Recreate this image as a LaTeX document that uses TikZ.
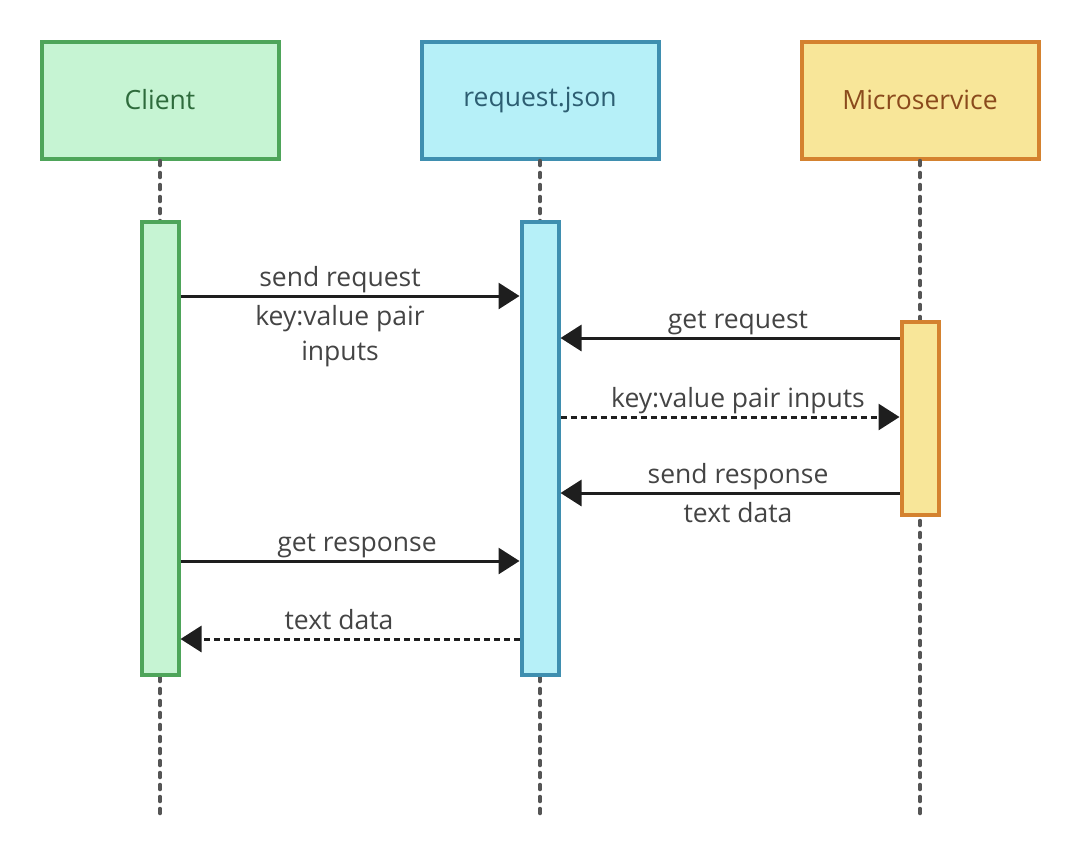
\documentclass[tikz,border=0pt]{standalone}
\usepackage{fontspec}
\setmainfont{Open Sans}
\usetikzlibrary{arrows.meta,positioning}

\definecolor{clientdraw}{HTML}{4EA55A}
\definecolor{clientfill}{HTML}{C6F4D3}
\definecolor{clienttext}{HTML}{2E6B3C}
\definecolor{jsondraw}{HTML}{3F8FB0}
\definecolor{jsonfill}{HTML}{B6F0F8}
\definecolor{jsontext}{HTML}{2D5E72}
\definecolor{servdraw}{HTML}{D4822F}
\definecolor{servfill}{HTML}{F8E699}
\definecolor{servtext}{HTML}{8A4A1C}
\definecolor{lifegray}{HTML}{555555}
\definecolor{labelgray}{HTML}{444444}
\definecolor{arrowblack}{HTML}{1E1E1E}

\begin{document}
\begin{tikzpicture}[x=1pt,y=-1pt,
    actor/.style={draw,line width=4pt,minimum width=237pt,minimum height=117pt,
                  font=\fontsize{26.5}{30}\selectfont},
    bar/.style={draw,line width=4pt,minimum width=37pt},
    lifeline/.style={lifegray,line width=3.5pt,line cap=round,dash pattern=on 5pt off 7pt},
    msg/.style={arrowblack,line width=3pt,-{Triangle[length=21pt,width=26pt]}},
    reply/.style={msg,dash pattern=on 6pt off 4pt},
    lbl/.style={text=labelgray,font=\fontsize{26.5}{35}\selectfont},
    over/.style={lbl,midway,above,yshift=-2pt},
    under/.style={lbl,midway,below,yshift=-5pt}]

  \useasboundingbox (0,0) rectangle (1080,860);

  % participants
  \node[actor,fill=clientfill,draw=clientdraw,text=clienttext] (client) at (160,100) {Client};
  \node[actor,fill=jsonfill,draw=jsondraw,text=jsontext]       (json)   at (540,100) {request.json};
  \node[actor,fill=servfill,draw=servdraw,text=servtext]       (serv)   at (920,100) {Microservice};

  % ends of the lifelines
  \coordinate (clientend) at (158,815);
  \coordinate (jsonend)   at (540,820);
  \coordinate (servend)   at (920,820);

  \draw[lifeline] (client.south) -- (client.south |- clientend);
  \draw[lifeline] (json.south)   -- (jsonend);
  \draw[lifeline] (serv.south)   -- (servend);

  % activation bars
  \node[bar,fill=clientfill,draw=clientdraw,minimum height=453pt] (clientbar) at (160,448) {};
  \node[bar,fill=jsonfill,draw=jsondraw,minimum height=453pt]     (jsonbar)   at (540,448) {};
  \node[bar,fill=servfill,draw=servdraw,minimum height=193pt]     (servbar)   at (920,418) {};

  % message rows
  \coordinate (m1) at (0,296);
  \coordinate (m2) at (0,338);
  \coordinate (m3) at (0,417);
  \coordinate (m4) at (0,493);
  \coordinate (m5) at (0,561);
  \coordinate (m6) at (0,639);

  \draw[msg]   (clientbar.east |- m1) -- (jsonbar.west |- m1)
               node[over,xshift=-10pt] {send request}
               node[under,align=center,xshift=-10pt] {key:value pair\\inputs};
  \draw[msg]   (servbar.west |- m2) -- (jsonbar.east |- m2)
               node[over,xshift=8pt] {get request};
  \draw[reply] (jsonbar.east |- m3) -- (servbar.west |- m3)
               node[over,xshift=8pt] {key:value pair inputs};
  \draw[msg]   (servbar.west |- m4) -- (jsonbar.east |- m4)
               node[over,xshift=8pt] {send response}
               node[under,xshift=8pt] {text data};
  \draw[msg]   (clientbar.east |- m5) -- (jsonbar.west |- m5)
               node[over,xshift=7pt] {get response};
  \draw[reply] (jsonbar.west |- m6) -- (clientbar.east |- m6)
               node[over,xshift=-11pt,yshift=6pt] {text data};

\end{tikzpicture}
\end{document}
